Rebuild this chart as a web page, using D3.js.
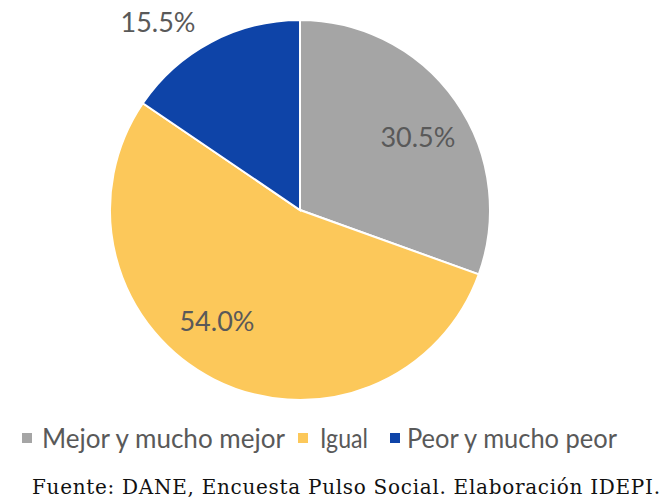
<!DOCTYPE html>
<html><head><meta charset="utf-8">
<script src="https://cdn.jsdelivr.net/npm/d3@7"></script>
<style>html,body{margin:0;padding:0;background:#fff;}</style>
</head><body>
<svg id="chart" width="670" height="503"></svg>
<script>
const categories = ["Mejor y mucho mejor", "Igual", "Peor y mucho peor"];
const values = [30.5, 54.0, 15.5];
const labels = ["30.5%", "54.0%", "15.5%"];
const colors = ["#A5A5A5", "#FCC85A", "#0E44A8"];
const sourceText = "Fuente: DANE, Encuesta Pulso Social. Elaboración IDEPI.";

// label placement: angle (deg, clockwise from top) and radius (px)
const labelPlacement = [{a:58, r:139}, {a:217, r:138}, {a:323, r:236}];

const svg = d3.select("#chart");
const cx = 300, cy = 210, R = 190;
const g = svg.append("g").attr("transform", `translate(${cx},${cy})`);

const pie = d3.pie().sort(null).value(d => d);
const arc = d3.arc().innerRadius(0).outerRadius(R);
const arcs = pie(values);

g.selectAll("path").data(arcs).join("path")
  .attr("d", arc)
  .attr("fill", (d,i) => colors[i])
  .attr("stroke", "#fff")
  .attr("stroke-width", 2);

g.selectAll("text.lbl").data(arcs).join("text")
  .attr("class","lbl")
  .attr("x", (d,i) => labelPlacement[i].r * Math.sin(labelPlacement[i].a*Math.PI/180))
  .attr("y", (d,i) => -labelPlacement[i].r * Math.cos(labelPlacement[i].a*Math.PI/180))
  .attr("text-anchor","middle")
  .attr("dominant-baseline","central")
  .attr("font-family","Lato, 'Liberation Sans', sans-serif")
  .attr("font-size", 27)
  .attr("fill","#595959")
  .text((d,i) => labels[i]);

// legend
const legendY = 438;
const legendX = [22, 298, 390];
const legendTextX = [42, 320, 407];
const legendW = [243, 48, 210];
const leg = svg.append("g");
categories.forEach((c,i) => {
  leg.append("rect").attr("x", legendX[i]).attr("y", legendY-5).attr("width",10).attr("height",10).attr("fill",colors[i]);
  leg.append("text").attr("x", legendTextX[i]).attr("y", legendY)
    .attr("dominant-baseline","central")
    .attr("font-family","Lato, 'Liberation Sans', sans-serif")
    .attr("font-size", 26)
    .attr("fill","#595959")
    .attr("textLength", legendW[i])
    .attr("lengthAdjust","spacingAndGlyphs")
    .text(c);
});

svg.append("text").attr("x", 32).attr("y", 494)
  .attr("font-family","'DejaVu Serif', serif")
  .attr("font-size", 20)
  .attr("fill","#111")
  .attr("textLength", 628)
  .attr("lengthAdjust","spacing")
  .text(sourceText);
</script>
</body></html>
